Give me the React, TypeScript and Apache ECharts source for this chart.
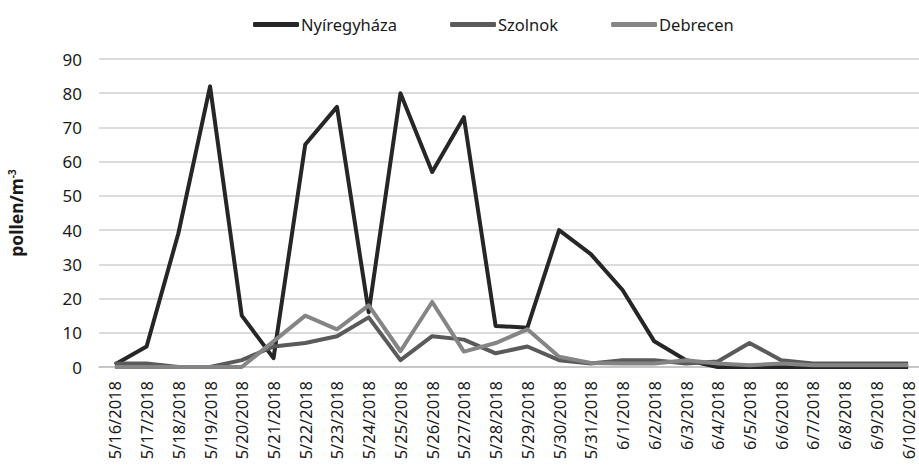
import React, { useEffect, useRef } from "react";
import * as echarts from "echarts";

const categories = [
  "5/16/2018", "5/17/2018", "5/18/2018", "5/19/2018", "5/20/2018", "5/21/2018",
  "5/22/2018", "5/23/2018", "5/24/2018", "5/25/2018", "5/26/2018", "5/27/2018",
  "5/28/2018", "5/29/2018", "5/30/2018", "5/31/2018", "6/1/2018", "6/2/2018",
  "6/3/2018", "6/4/2018", "6/5/2018", "6/6/2018", "6/7/2018", "6/8/2018",
  "6/9/2018", "6/10/2018",
];

const nyiregyhaza = [
  0.7, 6, 39, 82, 15, 2.6, 65, 76, 16, 80, 57, 73, 12, 11.5, 40, 33, 22.5, 7.5,
  2, 0, 0, 0, 0, 0, 0, 0,
];
const szolnok = [
  1, 1, 0, 0, 2, 6, 7, 9, 14.5, 2, 9, 8, 4, 6, 2, 1, 2, 2, 1, 1.6, 7, 2, 1, 1,
  1, 1,
];
const debrecen = [
  0, 0, 0, 0, 0, 7.5, 15, 11, 18, 4.6, 19, 4.5, 7, 11, 3, 1.2, 1, 1, 2, 1, 0.5,
  1, 0.5, 0.5, 0.5, 0.5,
];

const yTicks = { min: 0, max: 90, interval: 10 };

const FONT = "'Noto Sans', sans-serif";

export default function App() {
  const ref = useRef<HTMLDivElement>(null);
  useEffect(() => {
    if (!ref.current) return;
    const chart = echarts.init(ref.current, undefined, { renderer: "svg" });
    const mk = (name: string, data: number[], color: string) => ({
      name,
      type: "line",
      data,
      symbol: "none",
      smooth: false,
      lineStyle: { color, width: 4, join: "round" },
      itemStyle: { color },
    });
    chart.setOption({
      animation: false,
      backgroundColor: "#ffffff",
      textStyle: { fontFamily: FONT },
      legend: {
        top: 11,
        left: 248,
        icon: "roundRect",
        itemWidth: 46,
        itemHeight: 5,
        itemGap: 53,
        textStyle: { fontFamily: FONT, fontSize: 16.5, color: "#1a1a1a", padding: [0, 0, 0, -3] },
        data: ["Nyíregyháza", "Szolnok", "Debrecen"],
      },
      grid: {
        left: 99,
        top: 59,
        width: 825,
        bottom: 100,
        containLabel: false,
        outerBoundsMode: "none",
      },
      xAxis: {
        type: "category",
        data: categories,
        boundaryGap: true,
        axisTick: { show: false },
        axisLine: { lineStyle: { color: "#bfbfbf", width: 1.5 } },
        axisLabel: {
          rotate: 90,
          interval: 0,
          margin: 14,
          fontFamily: FONT,
          fontSize: 16.5,
          color: "#1a1a1a",
        },
      },
      yAxis: {
        type: "value",
        min: yTicks.min,
        max: yTicks.max,
        interval: yTicks.interval,
        name: "pollen/m{sup|-3}",
        nameLocation: "middle",
        nameRotate: 90,
        nameGap: 74,
        nameTextStyle: {
          fontFamily: FONT,
          fontSize: 17.5,
          fontWeight: "bold",
          color: "#1a1a1a",
          rich: {
            sup: {
              fontFamily: FONT,
              fontSize: 10,
              fontWeight: "bold",
              color: "#1a1a1a",
              verticalAlign: "top",
              padding: [0, 0, 8, 0],
            },
          },
        },
        axisLine: { show: false },
        axisTick: { show: false },
        axisLabel: { margin: 17, fontFamily: FONT, fontSize: 17, color: "#1a1a1a" },
        splitLine: { lineStyle: { color: "#d0d0d0", width: 1.5 } },
      },
      series: [
        mk("Nyíregyháza", nyiregyhaza, "#262626"),
        mk("Szolnok", szolnok, "#5a5a5a"),
        mk("Debrecen", debrecen, "#858585"),
      ],
    });
    return () => chart.dispose();
  }, []);
  return <div ref={ref} style={{ width: 919, height: 467, position: "absolute", left: 0, top: 0 }} />;
}
